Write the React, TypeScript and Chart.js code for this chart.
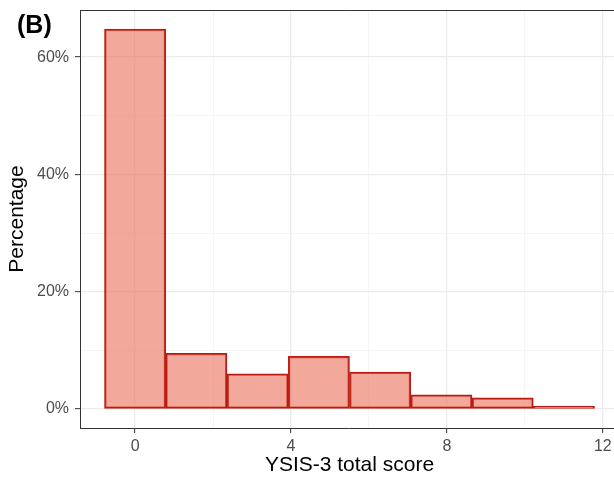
import React, { useEffect, useRef } from 'react';
import { Chart, registerables } from 'chart.js';
Chart.register(...registerables);

const binCenters = [0, 1.571, 3.143, 4.714, 6.286, 7.857, 9.429, 11];
const percentages = [64.8, 9.5, 6.0, 9.0, 6.3, 2.4, 1.9, 0.5];
const xTicks = [0, 2, 4, 6, 8, 10, 12];
const xMajor = [0, 4, 8, 12];
const yTicks = [0, 10, 20, 30, 40, 50, 60];
const yMajor = [0, 20, 40, 60];
const panelLabel = '(B)';
const xTitle = 'YSIS-3 total score';
const yTitle = 'Percentage';

const FONT = "'Liberation Sans', Arial, Helvetica, sans-serif";

export default function App() {
  const ref = useRef<HTMLCanvasElement | null>(null);
  useEffect(() => {
    if (!ref.current) return;
    const binWidth = binCenters[1] - binCenters[0];
    const lo = binCenters[0] - binWidth / 2;
    const hi = binCenters[binCenters.length - 1] + binWidth / 2;
    const xr = hi - lo;
    const ymaxData = Math.max(...percentages);

    const borderPlugin = {
      id: 'panel',
      afterDraw(chart: any) {
        const { ctx, chartArea } = chart;
        ctx.save();
        ctx.strokeStyle = '#333333';
        ctx.lineWidth = 1;
        ctx.beginPath();
        ctx.moveTo(chartArea.left, chartArea.top + 0.5);
        ctx.lineTo(chartArea.right, chartArea.top + 0.5);
        ctx.stroke();
        ctx.fillStyle = '#000';
        ctx.font = `bold 25px ${FONT}`;
        ctx.textBaseline = 'alphabetic';
        ctx.textAlign = 'left';
        ctx.fillText(panelLabel, 17, 33);
        ctx.restore();
      },
    };

    const chart = new Chart(ref.current, {
      type: 'bar',
      data: {
        datasets: [
          {
            data: binCenters.map((x, i) => ({ x, y: percentages[i] })),
            backgroundColor: 'rgba(233,110,88,0.6)',
            borderColor: 'rgb(185,28,18)',
            borderWidth: 1.6,
            borderSkipped: false,
            barPercentage: 1,
            categoryPercentage: 1,
          },
        ],
      },
      options: {
        animation: false,
        responsive: false,
        layout: { padding: { left: 0, top: 10, right: 11, bottom: 0 } },
        plugins: { legend: { display: false }, tooltip: { enabled: false } },
        scales: {
          x: {
            type: 'linear',
            offset: false,
            min: lo - 0.05 * xr,
            max: hi + 0.05 * xr,
            afterBuildTicks: (s: any) => {
              s.ticks = xTicks.map((v) => ({ value: v }));
            },
            afterFit: (s: any) => {
              s.height = 51;
              s.paddingLeft = 0;
              s.paddingRight = 0;
            },
            ticks: {
              autoSkip: false,
              maxRotation: 0,
              padding: 4,
              color: '#4D4D4D',
              font: { family: FONT, size: 16 },
              callback: (v: any) => (xMajor.includes(Number(v)) ? String(v) : ''),
            },
            grid: {
              offset: false,
              color: (c: any) => (xMajor.includes(c.tick?.value) ? '#EBEBEB' : '#F2F2F2'),
              lineWidth: (c: any) => (xMajor.includes(c.tick?.value) ? 1.3 : 0.8),
              tickColor: (c: any) => (xMajor.includes(c.tick?.value) ? '#333333' : 'rgba(0,0,0,0)'),
              tickLength: 5,
              tickWidth: 1,
            },
            border: { display: true, color: '#333333', width: 1 },
            title: {
              display: true,
              text: xTitle,
              color: '#000',
              font: { family: FONT, size: 21 },
              padding: { top: 0, bottom: 1 },
            },
          },
          y: {
            type: 'linear',
            min: -0.05 * ymaxData,
            max: ymaxData * 1.05,
            afterBuildTicks: (s: any) => {
              s.ticks = yTicks.map((v) => ({ value: v }));
            },
            afterFit: (s: any) => {
              s.width = 80;
              s.paddingTop = 0;
              s.paddingBottom = 0;
            },
            ticks: {
              autoSkip: false,
              padding: 6,
              color: '#4D4D4D',
              font: { family: FONT, size: 16 },
              callback: (v: any) => (yMajor.includes(Number(v)) ? `${v}%` : ''),
            },
            grid: {
              color: (c: any) => (yMajor.includes(c.tick?.value) ? '#EBEBEB' : '#F2F2F2'),
              lineWidth: (c: any) => (yMajor.includes(c.tick?.value) ? 1.3 : 0.8),
              tickColor: (c: any) => (yMajor.includes(c.tick?.value) ? '#333333' : 'rgba(0,0,0,0)'),
              tickLength: 5,
              tickWidth: 1,
            },
            border: { display: true, color: '#333333', width: 1 },
            title: {
              display: true,
              text: yTitle,
              color: '#000',
              font: { family: FONT, size: 21 },
              padding: { top: 5, bottom: 0 },
            },
          },
        },
      },
      plugins: [borderPlugin],
    } as any);
    return () => chart.destroy();
  }, []);

  return (
    <div
      style={{
        position: 'fixed',
        left: 0,
        top: 0,
        width: 614,
        height: 479,
        overflow: 'hidden',
        background: '#fff',
      }}
    >
      <canvas ref={ref} width={630} height={479} style={{ width: 630, height: 479, display: 'block' }} />
    </div>
  );
}
